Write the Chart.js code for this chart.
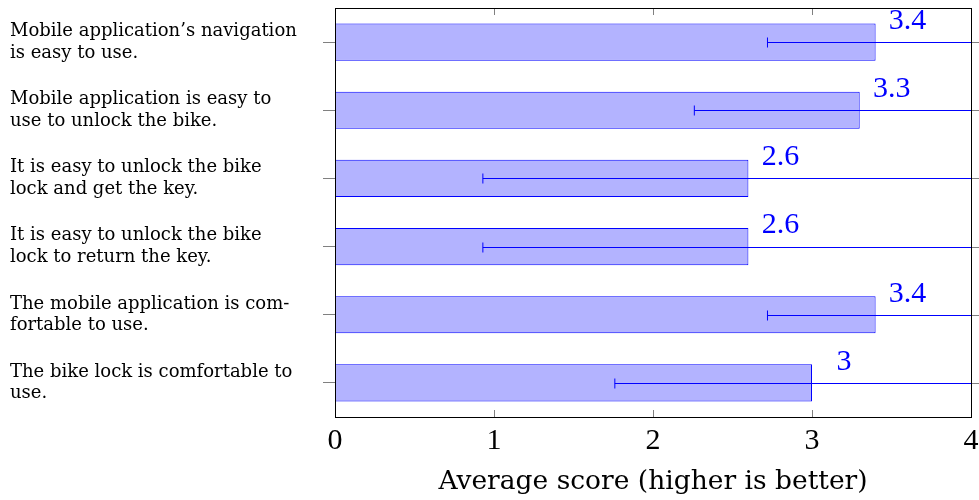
<!DOCTYPE html>
<html lang="en">
<head>
    <meta charset="UTF-8">
    <title>Average score</title>
    <script src="https://cdn.jsdelivr.net/npm/chart.js@4.4.0/dist/chart.umd.min.js"></script>
    <style>
        body { margin: 0; background: #fff; }
        .wrap { width: 979px; height: 500px; }
    </style>
</head>
<body>
    <div class="wrap"><canvas id="chart" width="979" height="500"></canvas></div>
    <script>
        const questions = [
            ['Mobile application\u2019s navigation', 'is easy to use.'],
            ['Mobile application is easy to', 'use to unlock the bike.'],
            ['It is easy to unlock the bike', 'lock and get the key.'],
            ['It is easy to unlock the bike', 'lock to return the key.'],
            ['The mobile application is com-', 'fortable to use.'],
            ['The bike lock is comfortable to', 'use.']
        ];
        const scores = [3.4, 3.3, 2.6, 2.6, 3.4, 3];
        const errors = [0.68, 1.04, 1.67, 1.67, 0.68, 1.24];
        const xTicks = [0, 1, 2, 3, 4];

        const blue = '#0000ff';
        const serif = "'Liberation Serif', 'DejaVu Serif', serif";
        const wideSerif = "'DejaVu Serif', serif";

        // error bars, value labels and the box/inner ticks pgfplots-style
        const extras = {
            id: 'extras',
            afterDatasetsDraw(chart) {
                const ctx = chart.ctx;
                const x = chart.scales.x, y = chart.scales.y;
                ctx.save();
                ctx.strokeStyle = blue;
                ctx.lineWidth = 1;
                scores.forEach((v, i) => {
                    const cy = Math.round(y.getPixelForValue(i)) + 0.5;
                    const lo = x.getPixelForValue(v - errors[i]);
                    const hi = x.getPixelForValue(v + errors[i]);
                    ctx.beginPath();
                    ctx.moveTo(lo, cy); ctx.lineTo(hi, cy);
                    ctx.moveTo(lo, cy - 5); ctx.lineTo(lo, cy + 5);
                    ctx.moveTo(hi, cy - 5); ctx.lineTo(hi, cy + 5);
                    ctx.stroke();
                });
                ctx.fillStyle = blue;
                ctx.font = '30px ' + serif;
                ctx.textAlign = 'center';
                ctx.textBaseline = 'middle';
                scores.forEach((v, i) => {
                    ctx.fillText(String(v), x.getPixelForValue(v) + 32, y.getPixelForValue(i) - 21);
                });
                ctx.restore();
            },
            afterDraw(chart) {
                const ctx = chart.ctx;
                const a = chart.chartArea;
                const x = chart.scales.x, y = chart.scales.y;
                ctx.save();
                ctx.strokeStyle = '#808080';
                ctx.lineWidth = 1;
                ctx.beginPath();
                xTicks.slice(1, -1).forEach(t => {
                    const px = Math.round(x.getPixelForValue(t)) + 0.5;
                    ctx.moveTo(px, a.top); ctx.lineTo(px, a.top + 7);
                    ctx.moveTo(px, a.bottom); ctx.lineTo(px, a.bottom - 7);
                });
                scores.forEach((v, i) => {
                    const py = Math.round(y.getPixelForValue(i)) + 0.5;
                    ctx.moveTo(a.right, py); ctx.lineTo(a.right + 12, py);
                });
                ctx.stroke();
                ctx.strokeStyle = '#000';
                ctx.strokeRect(Math.round(a.left) + 0.5, Math.round(a.top) + 0.5,
                    Math.round(a.right - a.left), Math.round(a.bottom - a.top));
                ctx.restore();
            }
        };

        new Chart(document.getElementById('chart'), {
            type: 'bar',
            data: {
                labels: questions,
                datasets: [{
                    data: scores,
                    backgroundColor: 'rgb(179,179,255)',
                    borderColor: blue,
                    borderWidth: 1,
                    barPercentage: 0.545,
                    categoryPercentage: 1
                }]
            },
            options: {
                indexAxis: 'y',
                responsive: false,
                animation: false,
                layout: { padding: { left: 10, right: 8, top: 8, bottom: 0 } },
                plugins: {
                    legend: { display: false },
                    tooltip: { enabled: false }
                },
                scales: {
                    x: {
                        min: 0,
                        max: 4,
                        afterBuildTicks: s => { s.ticks = xTicks.map(v => ({ value: v })); },
                        grid: { drawOnChartArea: false, drawTicks: false },
                        border: { color: '#000' },
                        ticks: {
                            color: '#000',
                            padding: 6,
                            font: { family: serif, size: 30 }
                        },
                        title: {
                            display: true,
                            text: 'Average score (higher is better)',
                            color: '#000',
                            padding: { top: 0, bottom: 2 },
                            font: { family: wideSerif, size: 26.5 }
                        },
                        afterFit: s => {
                            s.height = 83;
                            s.paddingLeft = 0;
                            s.paddingRight = 0;
                        }
                    },
                    y: {
                        grid: { drawOnChartArea: false, offset: false, tickLength: 12, color: '#808080' },
                        border: { color: '#000' },
                        ticks: {
                            color: '#000',
                            crossAlign: 'far',
                            font: { family: wideSerif, size: 18, lineHeight: 1.2 }
                        },
                        afterFit: s => {
                            s.width = 325;
                            s.paddingTop = 0;
                            s.paddingBottom = 0;
                        }
                    }
                }
            },
            plugins: [extras]
        });
    </script>
</body>
</html>
